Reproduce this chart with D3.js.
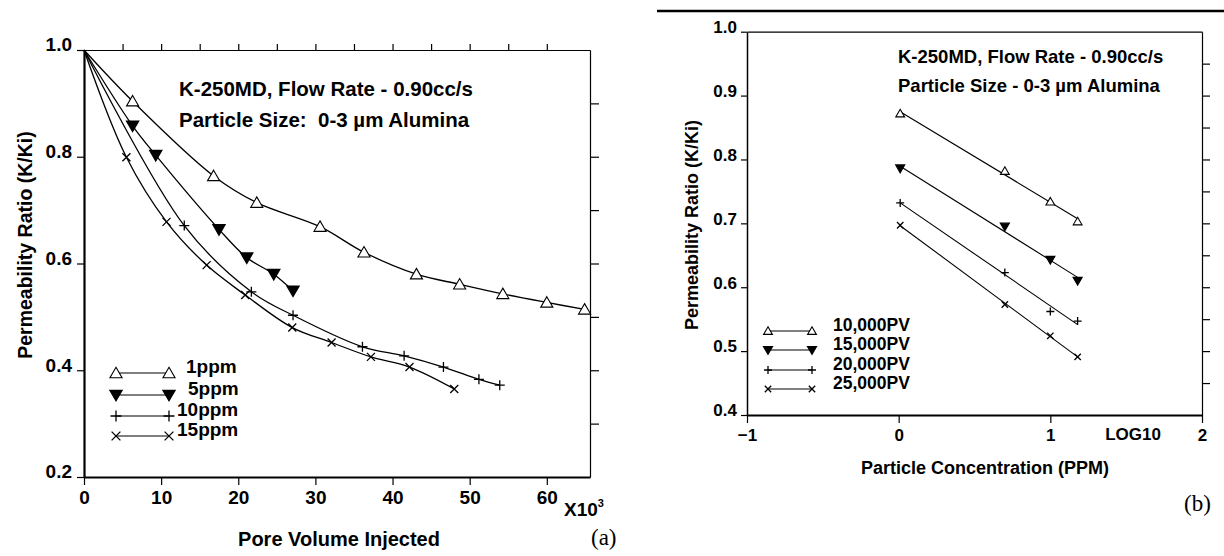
<!DOCTYPE html>
<html><head><meta charset="utf-8">
<script src="https://cdn.jsdelivr.net/npm/d3@7"></script>
<style>
html,body{margin:0;padding:0;background:#fff;}
svg{display:block;}
text{font-family:'Liberation Sans',Arial,Helvetica,sans-serif;font-weight:bold;fill:#000;white-space:pre;}
</style></head>
<body>
<svg id="chart" width="1224" height="556"></svg>
<script>
// ---------- Data: chart (a) ----------
const aSeriesNames = ["1ppm", "5ppm", "10ppm", "15ppm"];
const aMarkers = ["tri", "tridown", "plus", "cross"];
const a1ppmX = [0, 6.3, 16.8, 22.4, 30.6, 36.3, 43.1, 48.7, 54.3, 60.0, 64.9];
const a1ppmY = [1.0, 0.904, 0.764, 0.714, 0.669, 0.621, 0.580, 0.561, 0.543, 0.527, 0.514];
const a5ppmX = [0, 6.3, 9.3, 17.5, 21.1, 24.6, 27.1];
const a5ppmY = [1.0, 0.858, 0.803, 0.664, 0.611, 0.580, 0.549];
const a10ppmX = [0, 13.0, 21.7, 27.1, 36.1, 41.5, 46.6, 51.2, 53.9];
const a10ppmY = [1.0, 0.671, 0.547, 0.503, 0.444, 0.427, 0.406, 0.383, 0.372];
const a15ppmX = [0, 5.5, 10.7, 15.9, 20.9, 27.0, 32.1, 37.2, 42.2, 48.0];
const a15ppmY = [1.0, 0.799, 0.678, 0.597, 0.541, 0.480, 0.452, 0.425, 0.406, 0.365];
const aXTicks = [0, 10, 20, 30, 40, 50, 60];
const aXTopTicks = [5, 10, 15, 20, 25, 30, 35, 40, 45, 50, 55, 60];
const aYTicks = [0.2, 0.4, 0.6, 0.8, 1.0];
const aYRightTicks = [0.3, 0.4, 0.5, 0.6, 0.7, 0.8, 0.9];
const aNote = ["K-250MD, Flow Rate - 0.90cc/s", "Particle Size:  0-3 \u00b5m Alumina"];

// ---------- Data: chart (b) ----------
const bSeriesNames = ["10,000PV", "15,000PV", "20,000PV", "25,000PV"];
const bMarkers = ["tri", "tridown", "plus", "cross"];
const bLogConc = [0.01, 0.70, 1.0, 1.18];
const b10000 = [0.872, 0.782, 0.734, 0.703];
const b15000 = [0.786, 0.695, 0.643, 0.610];
const b20000 = [0.732, 0.623, 0.562, 0.547];
const b25000 = [0.697, 0.573, 0.524, 0.491];
const bXTicks = [-1, 0, 1, 2];
const bYTicks = [0.4, 0.5, 0.6, 0.7, 0.8, 0.9, 1.0];
const bYRightTicks = [0.45, 0.5, 0.55, 0.6, 0.65, 0.7, 0.75, 0.8, 0.85, 0.9, 0.95];
const bNote = ["K-250MD, Flow Rate - 0.90cc/s", "Particle Size - 0-3 \u00b5m Alumina"];

// ---------- helpers ----------
const svg = d3.select("#chart");
function markerPath(type, s) {
  const h = s / 2;
  if (type === "tri") return `M0,${-h*1.05}L${h*1.1},${h*0.85}L${-h*1.1},${h*0.85}Z`;
  if (type === "tridown") return `M${-h*1.1},${-h*0.85}L${h*1.1},${-h*0.85}L0,${h*1.05}Z`;
  if (type === "plus") return `M${-h},0H${h}M0,${-h}V${h}`;
  return `M${-h*0.8},${-h*0.8}L${h*0.8},${h*0.8}M${-h*0.8},${h*0.8}L${h*0.8},${-h*0.8}`;
}
function drawMarker(g, type, x, y, s) {
  g.append("path").attr("d", markerPath(type, s))
    .attr("transform", `translate(${x},${y})`)
    .attr("fill", type === "tri" ? "#fff" : (type === "tridown" ? "#000" : "none"))
    .attr("stroke", "#000").attr("stroke-width", type === "tri" ? 1.1 : 1.3);
}
function styleAxis(g, w) {
  g.selectAll("path.domain").attr("stroke", "#000").attr("stroke-width", w);
  g.selectAll(".tick line").attr("stroke", "#000").attr("stroke-width", 1.2);
}
function fitLine(xs, ys) {
  const n = xs.length, mx = d3.mean(xs), my = d3.mean(ys);
  let sxy = 0, sxx = 0;
  for (let i = 0; i < n; i++) { sxy += (xs[i] - mx) * (ys[i] - my); sxx += (xs[i] - mx) ** 2; }
  const b = sxy / sxx, a = my - b * mx;
  const x0 = d3.min(xs), x1 = d3.max(xs);
  return [[x0, a + b * x0], [x1, a + b * x1]];
}

// ================= Chart (a) =================
const xA = d3.scaleLinear().domain([0, 65.6]).range([84, 590]);
const yA = d3.scaleLinear().domain([0.2, 1.0]).range([477, 50]);
const gA = svg.append("g");

const topA = gA.append("g").attr("transform", `translate(0,${yA(1.0)})`)
  .call(d3.axisTop(xA).tickValues(aXTopTicks).tickSize(6).tickSizeOuter(0).tickFormat(""));
styleAxis(topA, 1.2);
const rightA = gA.append("g").attr("transform", `translate(${xA(65.6)},0)`)
  .call(d3.axisRight(yA).tickValues(aYRightTicks).tickSize(9).tickSizeOuter(0).tickFormat(""));
styleAxis(rightA, 1.2);
const botA = gA.append("g").attr("transform", `translate(0,${yA(0.2)})`)
  .call(d3.axisBottom(xA).tickValues(aXTicks).tickSize(8).tickSizeOuter(0).tickPadding(6));
styleAxis(botA, 2.2);
botA.selectAll("text").attr("font-size", 19).attr("dy", "0.71em");
const leftA = gA.append("g").attr("transform", `translate(${xA(0)},0)`)
  .call(d3.axisLeft(yA).tickValues(aYTicks).tickSize(7).tickSizeOuter(0).tickPadding(5).tickFormat(d3.format(".1f")));
styleAxis(leftA, 2.2);
leftA.selectAll("text").attr("font-size", 19).attr("dy", "0.05em");
gA.selectAll(".tick text").style("font-family", "'Liberation Sans',Arial,sans-serif").style("font-weight", "bold");

const x3 = gA.append("text").attr("x", 564).attr("y", 516).attr("font-size", 19);
x3.append("tspan").text("X10");
x3.append("tspan").attr("dy", -9).attr("font-size", 11).text("3");

gA.append("text").attr("x", 339).attr("y", 546).attr("text-anchor", "middle")
  .attr("font-size", 20).text("Pore Volume Injected");
gA.append("text").attr("transform", "translate(32,245) rotate(-90)").attr("text-anchor", "middle")
  .attr("font-size", 19.5).text("Permeability Ratio (K/Ki)");
aNote.forEach((t, i) => gA.append("text").attr("x", 179).attr("y", 96 + i * 31)
  .attr("font-size", 20.5).text(t));

const aData = [[a1ppmX, a1ppmY], [a5ppmX, a5ppmY], [a10ppmX, a10ppmY], [a15ppmX, a15ppmY]];
const lineA = d3.line().x(d => xA(d[0])).y(d => yA(d[1])).curve(d3.curveCatmullRom.alpha(0.5));
aData.forEach((s, k) => {
  const pts = s[0].map((x, i) => [x, s[1][i]]);
  gA.append("path").attr("d", lineA(pts)).attr("fill", "none").attr("stroke", "#000").attr("stroke-width", 1.3);
  pts.forEach(p => { if (p[0] > 0) drawMarker(gA, aMarkers[k], xA(p[0]), yA(p[1]), k < 2 ? 11 : 10); });
});

const aLegLineY = [373, 395, 416, 436];
const aLegTextX = [186, 188, 177, 177];
aSeriesNames.forEach((n, k) => {
  const y = aLegLineY[k];
  gA.append("line").attr("x1", 116).attr("x2", 169).attr("y1", y).attr("y2", y)
    .attr("stroke", "#000").attr("stroke-width", 1.1);
  drawMarker(gA, aMarkers[k], 116, y, 11);
  drawMarker(gA, aMarkers[k], 169, y, 11);
  gA.append("text").attr("x", aLegTextX[k]).attr("y", y - 0.5).attr("font-size", 19).text(n);
});
svg.append("text").attr("x", 591).attr("y", 545).attr("font-size", 23)
  .style("font-family", "'Liberation Serif','Times New Roman',serif").style("font-weight", "normal").text("(a)");

// ================= Chart (b) =================
const xB = d3.scaleLinear().domain([-1, 2]).range([747, 1202]);
const yB = d3.scaleLinear().domain([0.4, 1.0]).range([415, 31.7]);
const gB = svg.append("g");
gB.append("line").attr("x1", 657).attr("x2", 1224).attr("y1", 11).attr("y2", 11)
  .attr("stroke", "#000").attr("stroke-width", 2.5);

const topB = gB.append("g").attr("transform", `translate(0,${yB(1.0)})`)
  .call(d3.axisTop(xB).tickValues([]).tickSizeOuter(0));
styleAxis(topB, 1.2);
const rightB = gB.append("g").attr("transform", `translate(${xB(2)},0)`)
  .call(d3.axisRight(yB).tickValues(bYRightTicks).tickSize(8).tickSizeOuter(0).tickFormat(""));
styleAxis(rightB, 1.2);
const botB = gB.append("g").attr("transform", `translate(0,${yB(0.4)})`)
  .call(d3.axisBottom(xB).tickValues(bXTicks).tickSize(8).tickSizeOuter(0).tickPadding(6).tickFormat(d3.format("d")));
styleAxis(botB, 2);
botB.selectAll("text").attr("font-size", 17).attr("dy", "0.71em");
const leftB = gB.append("g").attr("transform", `translate(${xB(-1)},0)`)
  .call(d3.axisLeft(yB).tickValues(bYTicks).tickSize(6).tickSizeOuter(0).tickPadding(4).tickFormat(d3.format(".1f")));
styleAxis(leftB, 1.5);
leftB.selectAll("text").attr("font-size", 17).attr("dy", "0.05em");
gB.selectAll(".tick text").style("font-family", "'Liberation Sans',Arial,sans-serif").style("font-weight", "bold");

gB.append("text").attr("x", 1133).attr("y", 440).attr("text-anchor", "middle").attr("font-size", 17).text("LOG10");
gB.append("text").attr("x", 985).attr("y", 474).attr("text-anchor", "middle").attr("font-size", 18)
  .text("Particle Concentration (PPM)");
gB.append("text").attr("transform", "translate(698,225) rotate(-90)").attr("text-anchor", "middle")
  .attr("font-size", 18).text("Permeability Ratio (K/Ki)");
bNote.forEach((t, i) => gB.append("text").attr("x", 898).attr("y", 63 + i * 29)
  .attr("font-size", 18.5).text(t));

const bData = [b10000, b15000, b20000, b25000];
const lineB = d3.line().x(d => xB(d[0])).y(d => yB(d[1]));
bData.forEach((ys, k) => {
  const pts = bLogConc.map((x, i) => [x, ys[i]]);
  gB.append("path").attr("d", lineB(fitLine(bLogConc, ys))).attr("fill", "none").attr("stroke", "#000").attr("stroke-width", 1.1);
  pts.forEach(p => drawMarker(gB, bMarkers[k], xB(p[0]), yB(p[1]), 8));
});

const bLegY = [331, 350, 370, 389];
bSeriesNames.forEach((n, k) => {
  const y = bLegY[k];
  gB.append("line").attr("x1", 768).attr("x2", 812).attr("y1", y).attr("y2", y)
    .attr("stroke", "#000").attr("stroke-width", 1.1);
  drawMarker(gB, bMarkers[k], 768, y, 8);
  drawMarker(gB, bMarkers[k], 812, y, 8);
  gB.append("text").attr("x", 833).attr("y", y).attr("font-size", 17.5).text(n);
});
svg.append("text").attr("x", 1184).attr("y", 511).attr("font-size", 23)
  .style("font-family", "'Liberation Serif','Times New Roman',serif").style("font-weight", "normal").text("(b)");
</script>
</body></html>
